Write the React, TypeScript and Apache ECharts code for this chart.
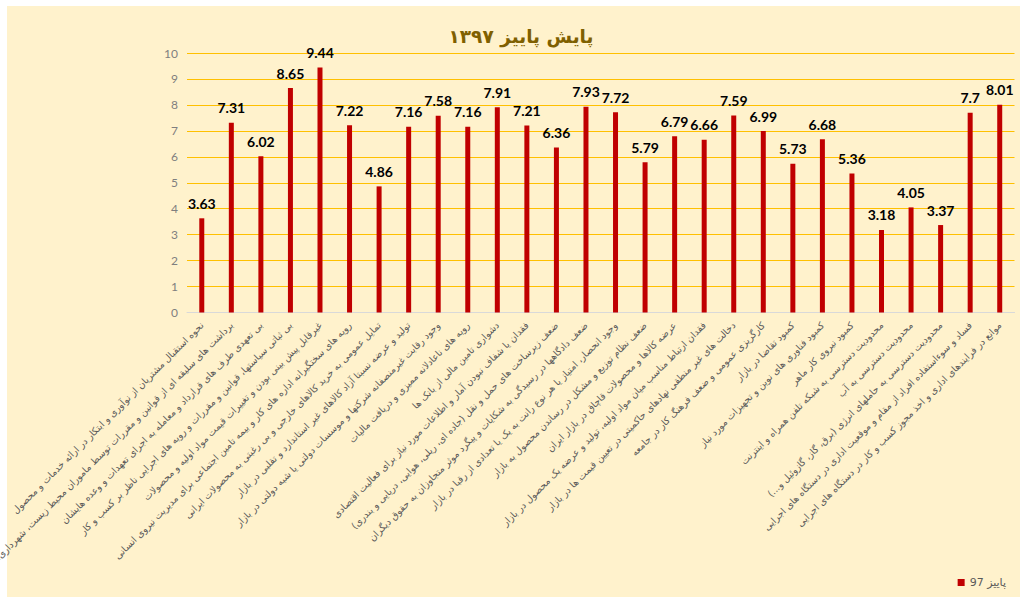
import React, { useEffect, useRef } from "react";
import * as echarts from "echarts";

const title = "پایش پاییز ۱۳۹۷";
const seriesName = "پاییز 97";

const categories: string[] = [
  "نحوه استقبال مشتریان از نوآوری و ابتکار در ارائه خدمات و محصول",
  "برداشت های سلیقه ای از قوانین و مقررات توسط ماموران محیط زیست، شهرداری، دارایی و ...\u200F",
  "بی تعهدی طرف های قرارداد و معامله به اجرای تعهدات و وعده هایشان",
  "بی ثباتی سیاستها، قوانین و مقررات و رویه های اجرایی ناظر بر کسب و کار",
  "غیرقابل پیش بینی بودن و تغییرات قیمت مواد اولیه و محصولات",
  "رویه های سختگیرانه اداره های کار و بیمه تامین اجتماعی برای مدیریت نیروی انسانی",
  "تمایل عمومی به خرید کالاهای خارجی و بی رغبتی به محصولات ایرانی",
  "تولید و عرضه نسبتا آزاد کالاهای غیر استاندارد و تقلبی در بازار",
  "وجود رقابت غیرمنصفانه شرکتها و موسسات دولتی یا شبه دولتی در بازار",
  "رویه های ناعادلانه ممیزی و دریافت مالیات",
  "دشواری تامین مالی از بانک ها",
  "فقدان یا شفاف نبودن آمار و اطلاعات مورد نیاز برای فعالیت اقتصادی",
  "ضعف زیرساخت های حمل و نقل (جاده ای، ریلی، هوایی، دریایی و بندری)",
  "ضعف دادگاهها در رسیدگی به شکایات و پیگرد موثر متجاوزان به حقوق دیگران",
  "وجود انحصار، امتیاز یا هر نوع رانت به یک یا تعدادی از رقبا در بازار",
  "ضعف نظام توزیع و مشکل در رساندن محصول به بازار",
  "عرضه کالاها و محصولات قاچاق در بازار ایران",
  "فقدان ارتباط مناسب میان مواد اولیه، تولید و عرضه یک محصول در بازار",
  "دخالت های غیر منطقی نهادهای حاکمیتی در تعیین قیمت ها در بازار",
  "کارگریزی عمومی و ضعف فرهنگ کار در جامعه",
  "کمبود تقاضا در بازار",
  "کمبود فناوری های نوین و تجهیزات مورد نیاز",
  "کمبود نیروی کار ماهر",
  "محدودیت دسترسی به شبکه تلفن همراه و اینترنت",
  "محدودیت دسترسی به آب",
  "محدودیت دسترسی به حاملهای انرژی (برق، گاز، گازوئیل و...)",
  "فساد و سوءاستفاده افراد از مقام و موقعیت اداری در دستگاه های اجرایی",
  "موانع در فرایندهای اداری و اخذ مجوز کسب و کار در دستگاه های اجرایی",
];

const values: number[] = [
  3.63, 7.31, 6.02, 8.65, 9.44, 7.22, 4.86, 7.16, 7.58, 7.16, 7.91, 7.21, 6.36, 7.93,
  7.72, 5.79, 6.79, 6.66, 7.59, 6.99, 5.73, 6.68, 5.36, 3.18, 4.05, 3.37, 7.7, 8.01,
];

const yMin = 0;
const yMax = 10;
const yStep = 1;

export default function App() {
  const ref = useRef<HTMLDivElement>(null);
  useEffect(() => {
    if (!ref.current) return;
    const chart = echarts.init(ref.current, undefined, { renderer: "svg" });
    const splitColors = ["#D9D9D9"];
    for (let i = 1; i <= (yMax - yMin) / yStep; i++) splitColors.push("#FFC000");
    chart.setOption({
      animation: false,
      backgroundColor: "#ffffff",
      graphic: [
        {
          type: "rect",
          z: -100,
          silent: true,
          shape: { x: 7, y: 6, width: 1013, height: 591 },
          style: { fill: "#FFF2CC" },
        },
      ],
      title: {
        text: title,
        left: 516,
        textAlign: "center",
        top: 22,
        textStyle: {
          fontFamily: "DejaVu Sans",
          fontWeight: "bold",
          fontSize: 18.5,
          color: "#7F6000",
        },
      },
      legend: {
        right: 16,
        bottom: 4,
        icon: "rect",
        itemWidth: 7,
        itemHeight: 7,
        itemGap: 4,
        textStyle: { fontFamily: "DejaVu Sans", fontSize: 11, color: "#595959" },
        data: [seriesName],
      },
      grid: {
        left: 187,
        right: 12.5,
        top: 53,
        height: 259.5,
        containLabel: false,
        outerBoundsMode: "none",
      },
      xAxis: {
        type: "category",
        data: categories,
        axisLine: { show: true, lineStyle: { color: "#D9D9D9" } },
        axisTick: { show: false },
        axisLabel: {
          interval: 0,
          rotate: 45,
          margin: 11,
          fontFamily: "DejaVu Sans",
          fontSize: 9.5,
          color: "#595959",
        },
      },
      yAxis: {
        type: "value",
        min: yMin,
        max: yMax,
        interval: yStep,
        axisLine: { show: false },
        axisTick: { show: false },
        axisLabel: { fontFamily: "Lato", fontSize: 12, color: "#7F7F7F", margin: 9 },
        splitLine: { show: true, lineStyle: { color: splitColors, width: 1 } },
      },
      series: [
        {
          name: seriesName,
          type: "bar",
          data: values,
          barWidth: 5,
          itemStyle: { color: "#C00000" },
          label: {
            show: true,
            position: "top",
            distance: 8,
            fontFamily: "Lato",
            fontWeight: "bold",
            fontSize: 14,
            color: "#000000",
          },
        },
      ],
    });
    return () => chart.dispose();
  }, []);
  return (
    <div
      ref={ref}
      style={{ position: "absolute", left: 0, top: 0, width: 1027, height: 597 }}
    />
  );
}
